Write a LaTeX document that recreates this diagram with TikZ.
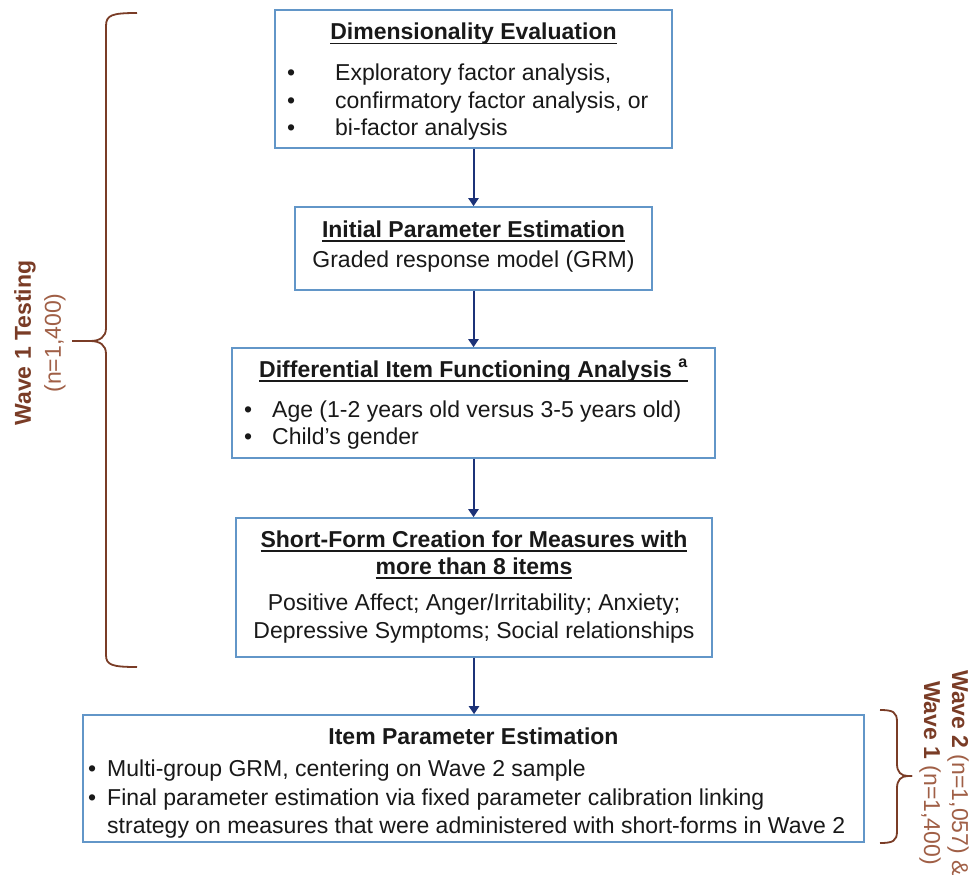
\documentclass[tikz,border=0pt]{standalone}
\usepackage{fontspec}
\setmainfont{Liberation Sans}
\usetikzlibrary{arrows.meta}
\definecolor{boxblue}{RGB}{98,150,200}
\definecolor{navy}{RGB}{28,50,120}
\definecolor{brownD}{RGB}{122,60,38}
\definecolor{brownL}{RGB}{160,95,70}
\definecolor{txtgray}{RGB}{25,25,25}
\newsavebox\ulbox
\newcommand\myul[1]{\sbox\ulbox{#1}\makebox[0pt][l]{\usebox\ulbox}\rule[-4.5pt]{\wd\ulbox}{1.5pt}}
\begin{document}
\begin{tikzpicture}[x=1pt,y=-1pt,
  box/.style={draw=boxblue,line width=1.6pt,inner sep=0pt},
  txt/.style={inner sep=0pt,font=\fontsize{23}{27}\selectfont,text=txtgray},
  bl/.style={txt,anchor=base west},
  ct/.style={txt,anchor=base},
  flow/.style={draw=navy,line width=2pt,-{Triangle[width=10pt,length=8pt]}},
  brace/.style={draw=brownD,line width=1.8pt},
  ]
\clip (0,0) rectangle (971,875);
\fill[white] (0,0) rectangle (971,875);
% boxes
\node[box,minimum width=397pt,minimum height=138pt] (b1) at (473.5,79) {};
\node[box,minimum width=357pt,minimum height=83pt] (b2) at (473.5,248.5) {};
\node[box,minimum width=483pt,minimum height=110pt] (b3) at (473.5,403) {};
\node[box,minimum width=476pt,minimum height=139pt] (b4) at (474,587.5) {};
\node[box,minimum width=781pt,minimum height=127pt] (b5) at (473.5,778.5) {};
% arrows
\draw[flow] (b1.south) -- (b2.north);
\draw[flow] (b2.south) -- (b3.north);
\draw[flow] (b3.south) -- (b3.south |- b4.north);
\draw[flow] (b4.south) -- (b4.south |- b5.north);
% box 1
\node[ct] (t1) at (473.5,40) {\myul{\textbf{Dimensionality Evaluation}}};
\node[bl] (t1d1) at (287,81) {•};
\node[bl] (t1d2) at (287,108) {•};
\node[bl] (t1d3) at (287,135) {•};
\node[bl] (t1a) at (335,81) {Exploratory factor analysis,};
\node[bl] (t1b) at (335,108) {confirmatory factor analysis, or};
\node[bl] (t1c) at (335,135) {bi-factor analysis};
% box 2
\node[ct] (t2) at (473.5,237) {\myul{\textbf{Initial Parameter Estimation}}};
\node[ct] (t2a) at (473.5,267) {Graded response model (GRM)};
% box 3
\node[ct] (t3) at (473.5,377) {\myul{\textbf{Differential Item Functioning Analysis \textsuperscript{a}}}};
\node[bl] (t3d1) at (244,417) {•};
\node[bl] (t3d2) at (244,444) {•};
\node[bl] (t3a) at (272,417) {Age (1-2 years old versus 3-5 years old)};
\node[bl] (t3b) at (272,444) {Child’s gender};
% box 4
\node[ct] (t4) at (474,547) {\myul{\textbf{Short-Form Creation for Measures with}}};
\node[ct] (t4b) at (474,574) {\myul{\textbf{more than 8 items}}};
\node[ct] (t4c) at (474,610) {Positive Affect; Anger/Irritability; Anxiety;};
\node[ct] (t4d) at (474,638) {Depressive Symptoms; Social relationships};
% box 5
\node[ct] (t5) at (473.5,744) {\textbf{Item Parameter Estimation}};
\node[bl] (t5d1) at (88,776) {•};
\node[bl] (t5d2) at (88,805) {•};
\node[bl] (t5a) at (107,776) {Multi-group GRM, centering on Wave 2 sample};
\node[bl] (t5b) at (107,805) {Final parameter estimation via fixed parameter calibration linking};
\node[bl] (t5c) at (107,833) {strategy on measures that were administered with short-forms in Wave 2};
% left brace
\draw[brace] (137,13) .. controls (112,13) and (106,15) .. (106,26) -- (106,328)
  .. controls (106,337) and (100,341) .. (90,341) -- (72,341);
\draw[brace] (72,341) -- (90,341) .. controls (100,341) and (106,345) .. (106,354) -- (106,655)
  .. controls (106,665) and (112,667) .. (137,667);
% right brace
\draw[brace] (880,710) .. controls (893,710) and (897,712) .. (897,722) -- (897,764)
  .. controls (897,772) and (901,776) .. (908,776) -- (912,776);
\draw[brace] (912,776) -- (908,776) .. controls (901,776) and (897,780) .. (897,788) -- (897,831)
  .. controls (897,841) and (893,843) .. (880,843);
% labels
\node[txt,rotate=90,align=center,font=\fontsize{23}{30}\selectfont] (lw) at (40,343)
  {\textcolor{brownD}{\textbf{Wave 1 Testing}}\\ \textcolor{brownL}{(n=1,400)}};
\node[txt,rotate=-90,align=center,font=\fontsize{23}{28}\selectfont] (rw) at (944,773)
  {\textcolor{brownD}{\textbf{Wave 2}} \textcolor{brownL}{(n=1,057) \&}\\
   \textcolor{brownD}{\textbf{Wave 1}} \textcolor{brownL}{(n=1,400)}};
\end{tikzpicture}
\end{document}
